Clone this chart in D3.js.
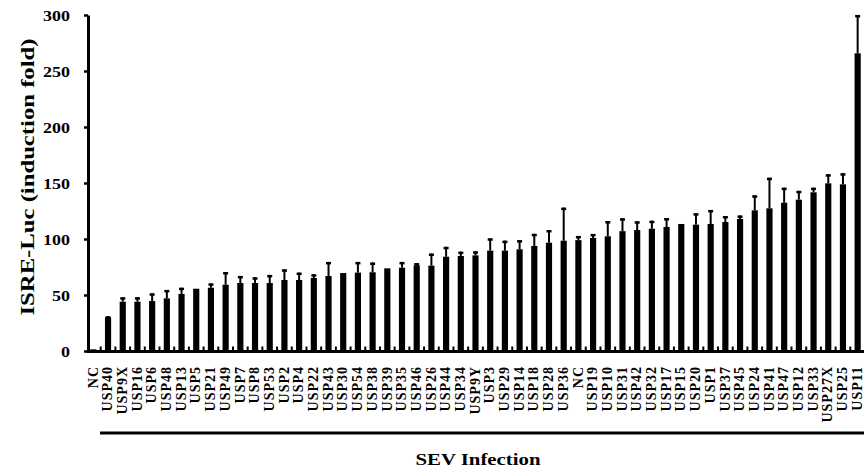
<!DOCTYPE html>
<html>
<head>
<meta charset="utf-8">
<script src="https://cdn.jsdelivr.net/npm/d3@7/dist/d3.min.js"></script>
<style>
  html, body { margin: 0; padding: 0; background: #fff; }
  text { font-family: "Liberation Serif", Tinos, "Times New Roman", serif; font-weight: bold; fill: #000; }
</style>
</head>
<body>
<svg id="chart" width="864" height="472"></svg>
<script>
const categories = ["NC","USP40","USP9X","USP16","USP6","USP48","USP13","USP5","USP21","USP49","USP7","USP8","USP53","USP2","USP4","USP22","USP43","USP30","USP54","USP38","USP39","USP35","USP46","USP26","USP44","USP34","USP9Y","USP3","USP29","USP14","USP18","USP28","USP36","NC","USP19","USP10","USP31","USP42","USP32","USP17","USP15","USP20","USP1","USP37","USP45","USP24","USP41","USP47","USP12","USP33","USP27X","USP25","USP11"];
const values = [1.5,30,44,44,44.6,47,51,55.6,56.5,59.2,60.7,60.7,60.7,63.4,63.4,65.2,67,69.6,70,70.3,73.8,74.4,76.5,76.2,84.2,84.8,85.4,89.6,89.6,90.8,93.8,96.7,98.5,99,100.9,102.4,107,108,109.2,110.7,113.4,112.8,113.4,115.2,117.9,125.6,127.4,132.4,135.1,141.7,149.7,148.8,265.8];
const errors = [0,1,4,4,6.9,7.5,5.5,0,3.9,11.3,6.3,5.1,7.2,9.5,6.6,3.3,12.5,0,9.5,8.7,0,5.1,2,10.8,8.8,3.9,3.6,11,8.9,8.2,10.8,11.3,29.5,3.7,3.6,13.6,11.5,7.8,7.1,8,0,10.2,12.5,5.3,3.1,13.4,27.3,13.4,7.9,4.1,8.1,9.9,34.2];
const yTicks = [0,50,100,150,200,250,300];
const yTitle = "ISRE-Luc (induction fold)";
const groupLabel = "SEV Infection";

const svg = d3.select("#chart");
const idx = categories.map((d, i) => i);
const FONT = "'Liberation Serif', Tinos, 'Times New Roman', serif";

const x = d3.scaleBand().domain(idx).range([86, 865]).paddingInner(0.58).paddingOuter(0.29);
const y = d3.scaleLinear().domain([0, 300]).range([351, 15]);

// bars
svg.append("g").selectAll("rect").data(idx).join("rect")
  .attr("x", i => x(i))
  .attr("y", i => y(values[i]))
  .attr("width", x.bandwidth())
  .attr("height", i => y(0) - y(values[i]))
  .attr("fill", "#000");

// error bars (upper only)
const eb = svg.append("g").selectAll("g").data(idx.filter(i => errors[i] >= 1)).join("g");
eb.append("line")
  .attr("x1", i => x(i) + x.bandwidth() / 2)
  .attr("x2", i => x(i) + x.bandwidth() / 2)
  .attr("y1", i => y(values[i]))
  .attr("y2", i => y(values[i] + errors[i]))
  .attr("stroke", "#000").attr("stroke-width", 2);
eb.append("line")
  .attr("x1", i => x(i) + x.bandwidth() / 2 - 2.5)
  .attr("x2", i => x(i) + x.bandwidth() / 2 + 2.5)
  .attr("y1", i => y(values[i] + errors[i]) + 1.2)
  .attr("y2", i => y(values[i] + errors[i]) + 1.2)
  .attr("stroke", "#000").attr("stroke-width", 2.5);

// y axis
const yAxis = svg.append("g").attr("transform", "translate(88,0)")
  .call(d3.axisLeft(y).tickValues(yTicks).tickSize(4).tickSizeOuter(0).tickPadding(14));
yAxis.select(".domain").attr("stroke", "#000").attr("stroke-width", 3);
yAxis.selectAll(".tick line").attr("stroke", "#000").attr("stroke-width", 2.5);
yAxis.selectAll(".tick text")
  .style("font-size", "15px")
  .style("font-family", FONT)
  .style("font-weight", "bold")
  .attr("textLength", d => String(d).length * 9)
  .attr("lengthAdjust", "spacingAndGlyphs")
  .attr("dy", "0.36em");

// x axis
const xAxis = svg.append("g").attr("transform", "translate(0,351)")
  .call(d3.axisBottom(x).tickSize(0).tickSizeOuter(0).tickFormat(i => categories[i]));
xAxis.select(".domain").attr("stroke", "#000").attr("stroke-width", 3);
xAxis.selectAll(".tick text")
  .style("font-size", "14px")
  .style("font-family", FONT)
  .style("font-weight", "bold")
  .style("letter-spacing", "1px")
  .attr("text-anchor", "end")
  .attr("transform", "rotate(-90)")
  .attr("x", -15)
  .attr("y", 0)
  .attr("dy", "0.3em");

// boundary ticks
const bounds = idx.slice(1).map(i => x(i) - x.step() * x.paddingInner() / 2);
svg.append("g").selectAll("line").data(bounds).join("line")
  .attr("x1", d => d).attr("x2", d => d)
  .attr("y1", 351).attr("y2", 346.5)
  .attr("stroke", "#000").attr("stroke-width", 2);

// y title
svg.append("text")
  .attr("transform", "translate(34,177) rotate(-90)")
  .attr("text-anchor", "middle")
  .style("font-size", "19px")
  .attr("textLength", 277)
  .attr("lengthAdjust", "spacingAndGlyphs")
  .text(yTitle);

// group line & label
svg.append("line")
  .attr("x1", 100).attr("x2", 864)
  .attr("y1", 433).attr("y2", 433)
  .attr("stroke", "#000").attr("stroke-width", 3);
svg.append("text")
  .attr("x", 478).attr("y", 465)
  .attr("text-anchor", "middle")
  .style("font-size", "17px")
  .attr("textLength", 125)
  .attr("lengthAdjust", "spacingAndGlyphs")
  .text(groupLabel);
</script>
</body>
</html>
